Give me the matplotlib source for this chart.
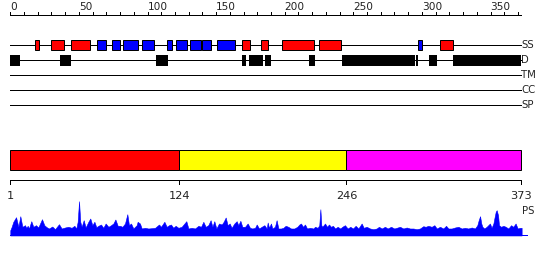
import matplotlib
matplotlib.use("Agg")
import matplotlib.pyplot as plt
from matplotlib.patches import Rectangle

# ---------------- data ----------------
seq_len = 373
top_ticks = list(range(0, 371, 10))
top_tick_labels = list(range(0, 351, 50))

helix_segments = [(19, 22), (31, 40), (45, 59), (170, 176), (184, 189),
                  (199, 222), (226, 242), (314, 324)]
strand_segments = [(64, 71), (75, 81), (83, 94), (97, 106), (115, 119),
                   (122, 130), (132, 140), (141, 147), (152, 165), (298, 301)]
disorder_segments = [(1, 8), (37, 45), (107, 116), (170, 173), (175, 185),
                     (187, 191), (219, 223), (243, 296), (297, 298),
                     (306, 312), (324, 373)]
track_names = ["SS", "D", "TM", "CC", "SP"]

domain_bounds = [1, 124, 246, 373]
domain_colors = ["#ff0000", "#ffff00", "#ff00ff"]

ps_pos = [1, 2.0, 3.2, 5.2, 6.9, 8.3, 9.8, 11.7, 12.7, 13.7, 14.6, 16.3, 17.8, 19.7,
          21.4, 24.1, 25.8, 27.5, 29.2, 31.6, 33.6, 36.5, 38.4, 40.9, 43.3, 45.7,
          47.7, 49.1, 50.1, 51.1, 52.0, 53.0, 54.5, 55.9, 57.9, 59.3, 60.8, 62.3,
          63.7, 65.2, 67.1, 68.8, 70.5, 72.5, 74.4, 76.1, 77.6, 79.3, 81.0, 82.7,
          84.6, 86.3, 87.5, 89.0, 90.7, 93.1, 93.8, 95.5, 96.8, 99.2, 101.6, 104.0,
          106.5, 109.4, 110.8, 113.3, 115.0, 116.7, 118.1, 119.8, 121.5, 123.5,
          125.9, 129.3, 130.8, 133.2, 135.6, 138.1, 140.0, 141.7, 143.4, 145.3,
          147.0, 148.3, 149.7, 151.2, 153.1, 155.1, 156.5, 158.0, 159.4, 160.9,
          162.3, 164.3, 166.0, 167.2, 168.7, 170.1, 172.1, 174.0, 175.7, 177.4,
          179.4, 180.6, 182.3, 184.2, 186.2, 187.9, 188.6, 189.6, 191.0, 192.0,
          193.9, 195.1, 196.4, 198.3, 200.0, 201.7, 203.6, 205.6, 208.0, 210.2,
          211.7, 212.9, 214.3, 215.8, 217.3, 219.4, 221.9, 223.1, 225.0, 226.2,
          227.0, 227.7, 228.4, 230.4, 231.8, 233.3, 234.7, 236.2, 237.7, 239.6,
          241.5, 243.0, 244.9, 246.9, 248.8, 250.8, 252.7, 254.7, 257.1, 258.6,
          260.7, 263.2, 265.6, 268.0, 269.7, 271.7, 274.1, 276.0, 278.5, 280.9,
          285.0, 287.5, 289.9, 292.3, 294.8, 297.2, 299.6, 302.0, 303.7, 305.7,
          308.1, 310.1, 311.8, 314.2, 316.6, 318.6, 320.3, 322.7, 325.1, 327.6,
          330.0, 332.4, 334.8, 337.3, 339.7, 341.4, 342.4, 343.4, 344.3, 345.1,
          346.5, 348.2, 350.6, 351.8, 353.1, 353.8, 354.8, 355.5, 356.5, 357.2,
          358.7, 360.4, 362.1, 364.0, 366.0, 367.6, 369.3, 370.8, 372.5, 373.7]
ps_val = [5.3, 8.7, 13.7, 18.3, 8.7, 19.3, 8.7, 10.3, 7.7, 9.7, 7, 14.3, 8.7, 10.3,
          8, 16.3, 10.3, 8.3, 7, 9, 6.3, 11.3, 7, 8, 8.7, 7.7,
          9.7, 7, 13.7, 34.3, 13.7, 8.7, 15.3, 8, 13.7, 17, 10.3, 13.7,
          8.3, 9.7, 11, 7.7, 12, 8.7, 10.3, 12, 16, 9.7, 9.7, 8.7,
          12, 21.3, 10.3, 12, 7, 10.3, 13.7, 12, 7, 7.7, 7, 7.3,
          7.7, 11, 8.7, 13.7, 8.7, 10.3, 11, 7.7, 9.7, 7.7,
          8.7, 14.3, 7, 7.7, 7, 9.7, 8.7, 13.7, 8.7, 10.3,
          15.3, 8.7, 14.3, 7, 12, 11, 13.7, 18, 10.3, 12,
          7.7, 12, 14.3, 10.3, 14.7, 8.7, 8.7, 12, 7.7, 7,
          7.7, 11, 7, 8.7, 10.3, 7, 13, 7.7, 12, 7,
          8.7, 15.3, 7, 7, 7.7, 9.7, 8.7, 7, 7, 8.7,
          11, 12, 8.7, 11, 7, 7.7, 7, 8.7, 7.7, 10.3,
          26.3, 10.3, 8.7, 12, 8.7, 11, 8.7, 9.7, 7, 8.7,
          7, 8.7, 10.3, 7, 8.7, 7, 9.7, 7, 12, 7.7,
          8.7, 7, 6.3, 7, 8.7, 7, 8.7, 7, 8.7, 7,
          8.7, 7, 8, 7, 7, 6.3, 7, 9.3, 8.7, 9.7,
          8.7, 10.3, 7, 8.7, 7, 9.7, 7, 7, 8, 8.7,
          7, 7.7, 7, 8, 7, 10.3, 15.3, 19.3, 12, 8.7,
          7, 8.7, 12, 7.7, 12, 17, 23.7, 25.3, 20.3, 10.3,
          8.7, 9.7, 8.7, 7, 10.3, 8.7, 12, 7, 7.7, 7.7]

# ---------------- layout ----------------
W, H = 550, 260
px_per_res = 1.372
x0_px = 10.3
xmin = 1 - x0_px / px_per_res
xmax = xmin + W / px_per_res

fig = plt.figure(figsize=(5.5, 2.6), dpi=100)
ax = fig.add_axes([0, 0, 1, 1])
ax.set_xlim(xmin, xmax)
ax.set_ylim(H, 0)
ax.axis("off")

lw = 0.72  # 1 px
txt_color = "#222222"

# top scale
scale_y = 15.3
ax.plot([1, seq_len], [scale_y, scale_y], color="black", lw=lw)
for t in top_ticks:
    ax.plot([t + 1, t + 1], [scale_y, scale_y - 3], color="black", lw=lw)
for t in top_tick_labels:
    ax.text(t + 1, scale_y - 3.5, str(t), ha="left", va="bottom",
            fontsize=7.6, color=txt_color, family="DejaVu Sans")

# tracks
track_y = [45, 60.3, 75.3, 90.2, 105.3]
for name, y in zip(track_names, track_y):
    ax.plot([1, seq_len + 0.3], [y, y], color="black", lw=lw, zorder=1)
    ax.text(seq_len + 0.2, y, name, ha="left", va="center", fontsize=7.3,
            color=txt_color, family="DejaVu Sans")

ss_h = 10
for s, e in helix_segments:
    ax.add_patch(Rectangle((s, track_y[0] - ss_h / 2), e - s, ss_h,
                           facecolor="#ff0000", edgecolor="black", lw=lw, zorder=2))
for s, e in strand_segments:
    ax.add_patch(Rectangle((s, track_y[0] - ss_h / 2), e - s, ss_h,
                           facecolor="#0000ff", edgecolor="black", lw=lw, zorder=2))
d_h = 10.7
for s, e in disorder_segments:
    ax.add_patch(Rectangle((s, track_y[1] - d_h / 2), e - s, d_h,
                           facecolor="black", edgecolor="none", lw=0, zorder=2))

# domain bar
bar_top, bar_h = 150.3, 20
for i, c in enumerate(domain_colors):
    ax.add_patch(Rectangle((domain_bounds[i], bar_top),
                           domain_bounds[i + 1] - domain_bounds[i], bar_h,
                           facecolor=c, edgecolor="black", lw=lw, zorder=2))

# bottom scale
bs_y = 180.3
ax.plot([domain_bounds[0], domain_bounds[-1]], [bs_y, bs_y], color="black", lw=lw)
for b in domain_bounds:
    ax.plot([b, b], [bs_y, bs_y + 4], color="black", lw=lw)
    ax.text(b, 196, str(b), ha="center", va="center", fontsize=8.2,
            color=txt_color, family="DejaVu Sans")

ax.text(seq_len + 0.6, 210.5, "PS", ha="left", va="center", fontsize=7.3,
        color=txt_color, family="DejaVu Sans")

# PS profile
ps_base_px = 235.5
ps_top_px = 195
axp = fig.add_axes([0, (H - ps_base_px) / H, 1, (ps_base_px - ps_top_px) / H])
axp.set_xlim(xmin, xmax)
axp.set_ylim(0, ps_base_px - ps_top_px)
axp.axis("off")
axp.fill_between(ps_pos, ps_val, 0, color="#0000ff", lw=0.4, edgecolor="#0000ff")
axp.plot([1, seq_len + 4.5], [0.5, 0.5], color="#0000ff", lw=lw, clip_on=False)

fig.savefig("out.png", dpi=100)
